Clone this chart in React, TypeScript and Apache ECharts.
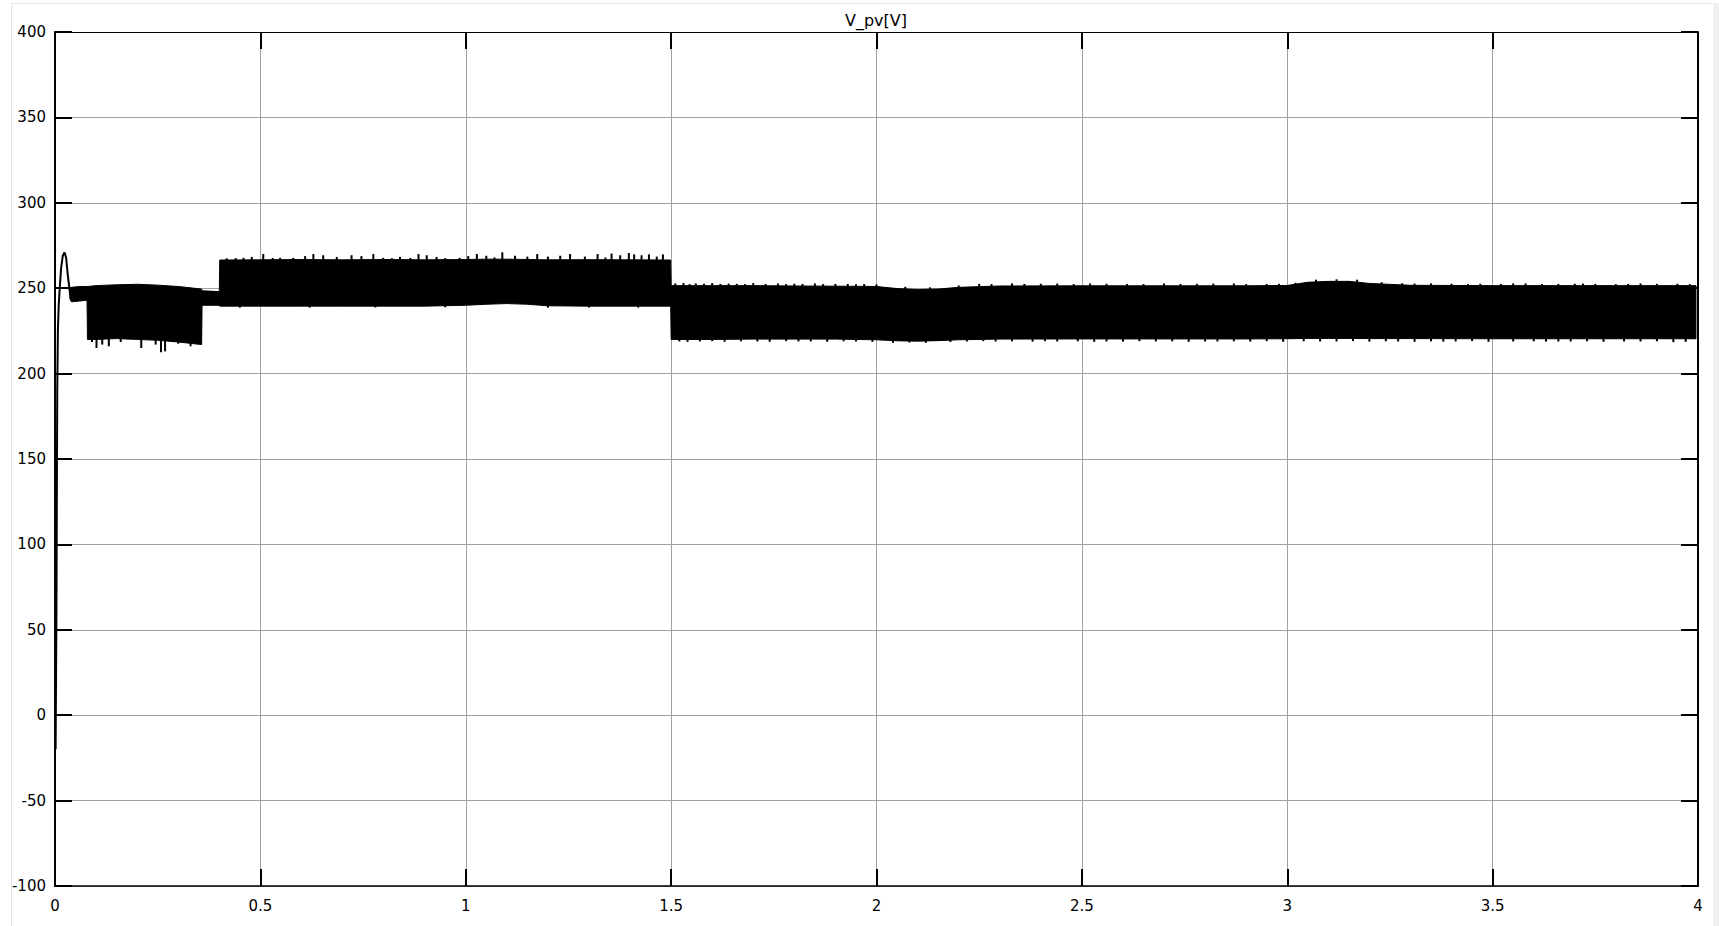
import React, { useEffect, useRef } from "react";
import * as echarts from "echarts";

const titleText = "V_pv[V]";
const xMin = 0, xMax = 4, xStep = 0.5;
const yMin = -100, yMax = 400, yStep = 50;

// start-up transient (time s, voltage V)
const transientT = [0, 0.0015, 0.0035, 0.0045, 0.0055, 0.007, 0.009, 0.012, 0.015, 0.019, 0.023, 0.027, 0.031, 0.035, 0.037];
const transientV = [0, -20, 60, 130, 190, 225, 240, 252, 262, 269, 271, 268, 258, 250, 246];

// ripple band envelope (time s, upper V, lower V)
const bandT = [0.036, 0.04, 0.06, 0.078, 0.079, 0.1, 0.15, 0.2, 0.25, 0.3, 0.357, 0.358, 0.4, 0.401, 0.5, 0.6, 0.7, 0.8, 0.9, 1.0, 1.05, 1.1, 1.15, 1.2, 1.3, 1.4, 1.499, 1.5, 1.6, 1.7, 1.8, 1.9, 2.0, 2.05, 2.1, 2.15, 2.2, 2.3, 2.5, 2.7, 2.9, 3.0, 3.05, 3.1, 3.15, 3.2, 3.3, 3.5, 3.7, 3.9, 3.995];
const bandUpper = [248, 250.5, 251, 251, 251, 251.5, 252, 252.3, 251.8, 251, 249.5, 248.5, 248, 266.5, 266.6, 266.8, 266.6, 266.8, 266.6, 266.8, 267, 267, 266.8, 266.6, 266.7, 266.6, 266.5, 251.5, 251.5, 251.5, 251.3, 251.2, 251, 249.8, 249.2, 249.5, 250.5, 251.3, 251.4, 251.4, 251.4, 251.6, 253.5, 254, 254, 252.8, 251.7, 251.5, 251.5, 251.5, 251.5];
const bandLower = [244, 242, 242.5, 243, 220, 220, 220.5, 220, 219.5, 218.5, 217, 240, 240, 239.5, 239.5, 239.5, 239.5, 239.5, 239.5, 240, 240.6, 241, 240.6, 239.7, 239.5, 239.5, 239.5, 220, 220, 220.2, 220.2, 220.2, 219.8, 219.2, 219, 219.3, 219.8, 220.2, 220.3, 220.3, 220.3, 220.4, 220.6, 220.6, 220.6, 220.5, 220.5, 220.4, 220.4, 220.4, 220.4];

// ripple peaks sticking out of the band
const upperSpikeT = [0.418, 0.44, 0.459, 0.479, 0.507, 0.53, 0.548, 0.58, 0.609, 0.629, 0.653, 0.686, 0.722, 0.746, 0.775, 0.799, 0.82, 0.84, 0.865, 0.885, 0.905, 0.929, 0.95, 0.985, 1.006, 1.027, 1.05, 1.07, 1.089, 1.12, 1.15, 1.174, 1.2, 1.23, 1.254, 1.29, 1.321, 1.34, 1.355, 1.376, 1.397, 1.41, 1.428, 1.446, 1.465, 1.48,
  1.51, 1.53, 1.545, 1.56, 1.58, 1.6, 1.62, 1.64, 1.66, 1.68, 1.7, 1.73, 1.76, 1.78, 1.8, 1.82, 1.85, 1.87, 1.9, 1.93, 1.95, 1.97, 2.0, 2.07, 2.13, 2.2, 2.25, 2.28, 2.33, 2.36, 2.4, 2.44, 2.48, 2.52, 2.56, 2.61, 2.65, 2.7, 2.74, 2.78, 2.82, 2.87, 2.9, 2.95, 2.98, 3.02, 3.07, 3.12, 3.17, 3.23, 3.28, 3.31, 3.35, 3.4, 3.44, 3.47, 3.52, 3.55, 3.58, 3.62, 3.66, 3.7, 3.72, 3.75, 3.8, 3.83, 3.86, 3.9, 3.95, 3.98];
const upperSpikeV = [267.5, 267.6, 267.8, 268.3, 270, 267.7, 267.8, 267.8, 268.8, 270, 269.3, 268.3, 269.3, 268.8, 270, 267.8, 267.6, 268.3, 267.7, 270, 269.3, 268.3, 267.6, 267.8, 268.8, 270, 269, 268, 271, 269, 268.5, 270, 268.5, 269, 270, 268.5, 270, 268, 270.3, 269.3, 270.6, 269.8, 269.3, 269.8, 268.5, 269.8,
  252.8, 253, 252.4, 252.8, 252.6, 253, 252.5, 252.7, 252.6, 252.4, 253, 252.5, 252.8, 252.4, 252.6, 252.5, 252.8, 252.4, 252.5, 252.5, 252.3, 252.4, 252.2, 250.8, 250.5, 251.6, 252.5, 252.4, 252.8, 252.5, 252.6, 252.7, 252.4, 252.8, 252.6, 252.5, 252.4, 252.8, 252.5, 252.6, 252.7, 252.8, 252.4, 252.5, 252.6, 253.2, 255, 255.2, 255, 253.5, 252.9, 252.7, 252.8, 252.6, 252.4, 252.6, 252.5, 252.8, 252.8, 252.4, 252.5, 252.6, 252.7, 252.5, 252.4, 252.5, 252.8, 252.6, 252.6, 252.4];
const lowerSpikeT = [0.09, 0.101, 0.115, 0.131, 0.16, 0.21, 0.245, 0.258, 0.268, 0.3, 0.33, 0.45, 0.62, 0.78, 0.95, 1.2, 1.3, 1.42,
  1.52, 1.54, 1.57, 1.6, 1.63, 1.67, 1.71, 1.74, 1.78, 1.81, 1.84, 1.88, 1.92, 1.95, 1.99, 2.04, 2.08, 2.12, 2.18, 2.22, 2.26, 2.29, 2.33, 2.38, 2.41, 2.44, 2.49, 2.53, 2.56, 2.6, 2.64, 2.68, 2.72, 2.76, 2.8, 2.83, 2.87, 2.91, 2.95, 2.99, 3.04, 3.08, 3.12, 3.16, 3.2, 3.24, 3.27, 3.31, 3.35, 3.38, 3.41, 3.45, 3.49, 3.55, 3.6, 3.63, 3.66, 3.69, 3.73, 3.77, 3.82, 3.86, 3.9, 3.94, 3.97];
const lowerSpikeV = [218.5, 215, 217, 216, 218.5, 215, 217, 212.5, 213, 217.5, 216, 238.6, 238.6, 238.7, 238.8, 238.6, 238.7, 238.6,
  218.8, 218.6, 218.8, 219, 218.6, 218.9, 218.8, 218.6, 219, 218.8, 218.8, 218.6, 218.9, 218.8, 218.6, 218, 218.2, 218, 218.5, 218.8, 219, 218.8, 218.9, 218.7, 219, 218.8, 218.9, 218.6, 218.8, 218.7, 219, 218.8, 218.9, 218.6, 218.8, 218.8, 218.9, 218.7, 219, 218.6, 218.9, 218.8, 218.8, 219, 218.7, 218.9, 218.8, 218.6, 218.9, 218.7, 218.8, 219, 218.6, 218.8, 218.9, 218.7, 218.8, 218.8, 218.9, 218.6, 218.8, 218.8, 218.9, 218.4, 218.6];

const FONT = "'DejaVu Sans', Verdana, sans-serif";

export default function App() {
  const ref = useRef<HTMLDivElement>(null);

  useEffect(() => {
    document.body.style.margin = "0";
    document.body.style.overflow = "hidden";
    if (!ref.current) return;
    const chart = echarts.init(ref.current, null, { renderer: "svg" });

    const transient = transientT.map((t, i) => [t, transientV[i]]);
    const up = upperSpikeT.map((t, i) => [t, upperSpikeV[i], -10]);
    const dn = lowerSpikeT.map((t, i) => [t, lowerSpikeV[i], 10]);

    const bandRender = (_p: any, api: any) => {
      const pts: number[][] = [];
      for (let i = 0; i < bandT.length; i++) pts.push(api.coord([bandT[i], bandUpper[i]]));
      for (let i = bandT.length - 1; i >= 0; i--) pts.push(api.coord([bandT[i], bandLower[i]]));
      return {
        type: "polygon",
        shape: { points: pts },
        style: { fill: "#000", stroke: "#000", lineWidth: 1 },
      };
    };

    const spikeRender = (_p: any, api: any) => {
      const t = api.value(0);
      const v = api.value(1);
      const d = api.value(2);
      const a = api.coord([t, v]);
      const b = api.coord([t, v + d]);
      return {
        type: "line",
        shape: { x1: a[0], y1: a[1], x2: b[0], y2: b[1] },
        style: { stroke: "#000", lineWidth: 2 },
      };
    };

    const tick = { show: true, inside: true, length: 17, lineStyle: { color: "#000", width: 2 } };

    chart.setOption({
      animation: false,
      backgroundColor: "#ffffff",
      grid: { left: 55, right: 21, top: 32, bottom: 40, outerBoundsMode: "none" },
      graphic: [
        { type: "line", shape: { x1: 11, y1: 3.5, x2: 1712, y2: 3.5 }, style: { stroke: "#e6e6e6", lineWidth: 1 }, silent: true },
        { type: "line", shape: { x1: 11.5, y1: 3, x2: 11.5, y2: 926 }, style: { stroke: "#e6e6e6", lineWidth: 1 }, silent: true },
        { type: "rect", shape: { x: 1713, y: 3, width: 6, height: 923 }, style: { fill: "#f0f0f0" }, silent: true },
        {
          type: "text", x: 876, y: 20,
          style: { text: titleText, fill: "#000", font: `16px ${FONT}`, textAlign: "center", textVerticalAlign: "middle" },
        },
      ],
      xAxis: [
        {
          type: "value", position: "bottom",
          min: xMin, max: xMax, interval: xStep,
          axisLine: { show: true, onZero: false, lineStyle: { color: "#000", width: 1.5 } },
          axisTick: tick,
          axisLabel: { color: "#000", fontSize: 15, fontFamily: FONT, margin: 12 },
          splitLine: { show: true, lineStyle: { color: "#a0a0a0", width: 1 } },
        },
        {
          type: "value", position: "top",
          min: xMin, max: xMax, interval: xStep,
          axisLine: { show: true, onZero: false, lineStyle: { color: "#000", width: 1 } },
          axisTick: tick,
          axisLabel: { show: false },
          splitLine: { show: false },
        },
      ],
      yAxis: [
        {
          type: "value", position: "left",
          min: yMin, max: yMax, interval: yStep,
          axisLine: { show: true, onZero: false, lineStyle: { color: "#000", width: 2 } },
          axisTick: tick,
          axisLabel: { color: "#000", fontSize: 15, fontFamily: FONT, margin: 9 },
          splitLine: { show: true, lineStyle: { color: "#a0a0a0", width: 1 } },
        },
        {
          type: "value", position: "right",
          min: yMin, max: yMax, interval: yStep,
          axisLine: { show: true, onZero: false, lineStyle: { color: "#000", width: 2 } },
          axisTick: tick,
          axisLabel: { show: false },
          splitLine: { show: false },
        },
      ],
      series: [
        { name: "V_pv", type: "custom", data: [[bandT[0], bandUpper[0]]], renderItem: bandRender, silent: true, clip: true },
        {
          name: "transient", type: "line", data: transient,
          symbol: "none", lineStyle: { color: "#000", width: 2 }, silent: true,
        },
        { name: "peaks", type: "custom", data: up, renderItem: spikeRender, silent: true },
        { name: "troughs", type: "custom", data: dn, renderItem: spikeRender, silent: true },
      ],
    });

    return () => chart.dispose();
  }, []);

  return (
    <div
      ref={ref}
      style={{ position: "absolute", left: 0, top: 0, width: 1719, height: 926 }}
    />
  );
}
